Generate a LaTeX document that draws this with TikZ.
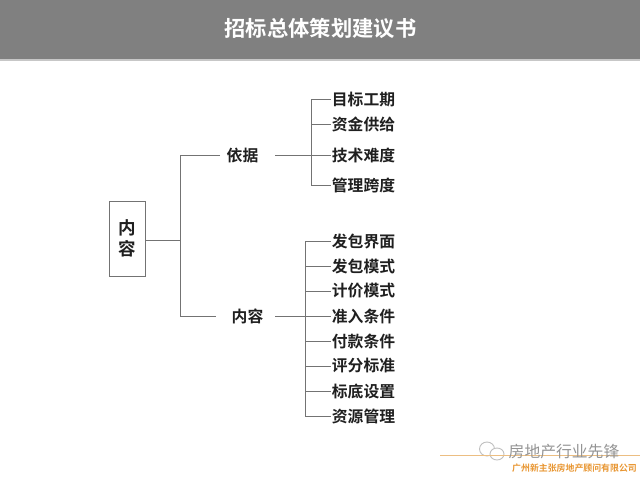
\documentclass[tikz,border=0pt]{standalone}
\usepackage{fontspec}
\setmainfont{Noto Sans CJK SC}[BoldFont={* Bold}]
\definecolor{footline}{RGB}{236,190,130}
\definecolor{footorange}{RGB}{232,150,50}
\begin{document}
\begin{tikzpicture}[x=1pt,y=-1pt,
  lbl/.style={font=\bfseries\fontsize{15.8}{17}\selectfont,text=black!88,inner sep=0pt,anchor=center},
  conn/.style={draw=black!55,line width=1pt}]
\useasboundingbox (0,0) rectangle (640,480);
\fill[black!50] (0,0) rectangle (640,59);
\fill[black!22] (0,59) rectangle (640,60.5);
\node[font=\bfseries\fontsize{21.3}{23}\selectfont,text=white,inner sep=0pt] (title) at (320.5,28) {招标总体策划建议书};
\node[draw=black!55,line width=1pt,fill=white,minimum width=36pt,minimum height=75pt,inner sep=0pt,
  font=\bfseries\fontsize{17.5}{21.5}\selectfont,text=black!88,align=center] (root) at (127,238.5) {内\\容};
\node[lbl] (yj) at (242.5,155) {依据};
\node[lbl] (nr) at (247.5,316) {内容};
\foreach \n/\y/\t in {a1/99.5/目标工期,a2/124.5/资金供给,a3/155/技术难度,a4/185/管理跨度,
  b1/241/发包界面,b2/266/发包模式,b3/291/计价模式,b4/316/准入条件,b5/341/付款条件,b6/366/评分标准,b7/391/标底设置,b8/416.5/资源管理}
  \node[lbl] (\n) at (363.5,\y) {\t};
\coordinate (tr) at (180,240.5);
\coordinate (yl) at (220,155);
\coordinate (nl) at (216,316);
\coordinate (yr) at (275,155);
\coordinate (nrr) at (275,316);
\coordinate (ya) at (311,155);
\coordinate (nb) at (305,316);
\coordinate (a1e) at (331,99.5);
\coordinate (a2e) at (331,124.5);
\coordinate (a3e) at (331,155);
\coordinate (a4e) at (331,185);
\draw[conn] (root.east |- tr) -- (tr);
\draw[conn] (yl) -- (yl -| tr) -- (nl -| tr) -- (nl);
\draw[conn] (yr) -- (a3e);
\draw[conn] (a1e) -- (a1e -| ya) -- (a4e -| ya) -- (a4e);
\draw[conn] (a2e -| ya) -- (a2e);
\draw[conn] (nrr) -- (331,316);
\draw[conn] (331,241) -- (305,241) -- (305,416.5) -- (331,416.5);
\foreach \y in {266,291,341,366,391} \draw[conn] (305,\y) -- (331,\y);
% footer
\begin{scope}[black!25,line width=0.9pt]
\draw[fill=white] (487,449) ellipse (7.5 and 7);
\draw[fill=white] (497,454) ellipse (7 and 6);
\end{scope}
\draw[draw=footline,line width=1pt] (440,455) -- (640,455);
\node[inner sep=0pt,font=\fontsize{15.8}{17}\selectfont,text=black!42] (wm) at (564,452) {房地产行业先锋};
\node[inner sep=0pt,font=\bfseries\fontsize{8.9}{10}\selectfont,text=footorange] (co) at (574.5,468) {广州新主张房地产顾问有限公司};
\end{tikzpicture}
\end{document}
